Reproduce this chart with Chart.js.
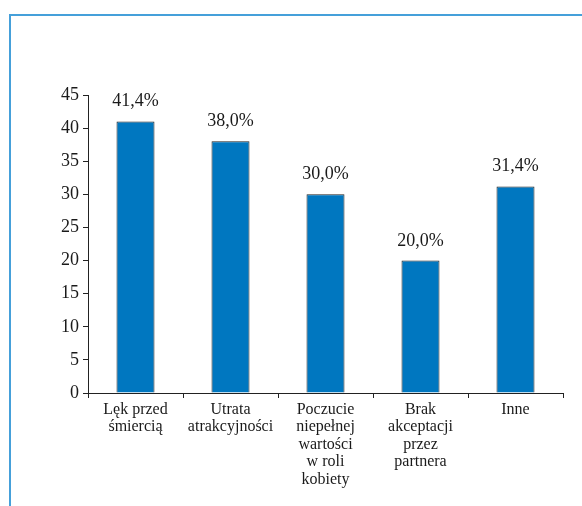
<!DOCTYPE html>
<html>
<head>
<meta charset="utf-8">
<script src="https://cdn.jsdelivr.net/npm/chart.js@4/dist/chart.umd.min.js"></script>
<style>
html, body { margin: 0; padding: 0; background: #fff; }
#wrap { position: relative; width: 582px; height: 506px; overflow: hidden; }
#frame { position: absolute; left: 9px; top: 14px; width: 600px; height: 600px;
  border-top: 2px solid #45a0da; border-left: 2px solid #45a0da; }
canvas { position: absolute; left: 0; top: 0; }
</style>
</head>
<body>
<div id="wrap">
<div id="frame"></div>
<canvas id="barChart" width="582" height="506"></canvas>
</div>
<script>
// data
var categories = [
    ['Lęk przed', 'śmiercią'],
    ['Utrata', 'atrakcyjności'],
    ['Poczucie', 'niepełnej', 'wartości', 'w roli', 'kobiety'],
    ['Brak', 'akceptacji', 'przez', 'partnera'],
    ['Inne']
];
var values = [41.0, 38.0, 30.0, 20.0, 31.2];
var valueLabels = ['41,4%', '38,0%', '30,0%', '20,0%', '31,4%'];

// labels above the bars
var valueLabelPlugin = {
    id: 'valueLabels',
    afterDatasetsDraw: function(chart) {
        var ctx = chart.ctx;
        var meta = chart.getDatasetMeta(0);
        ctx.save();
        ctx.font = '18px "Liberation Serif"';
        ctx.fillStyle = '#1a1a1a';
        ctx.textAlign = 'center';
        ctx.textBaseline = 'alphabetic';
        meta.data.forEach(function(bar, i) {
            ctx.fillText(valueLabels[i], bar.x, bar.y - 15);
        });
        ctx.restore();
    }
};

var ctx = document.getElementById('barChart').getContext('2d');
var barChart = new Chart(ctx, {
    type: 'bar',
    data: {
        labels: categories,
        datasets: [{
            data: values,
            backgroundColor: '#0077c0',
            borderColor: '#222222',
            borderWidth: 1,
            borderSkipped: 'bottom',
            barPercentage: 0.4,
            categoryPercentage: 1
        }]
    },
    options: {
        responsive: false,
        animation: false,
        layout: { padding: { left: 0, top: 95, right: 19, bottom: 0 } },
        plugins: {
            legend: { display: false },
            tooltip: { enabled: false }
        },
        scales: {
            x: {
                afterFit: function(scale) { scale.height = 113; },
                grid: { drawOnChartArea: false, drawTicks: true, tickLength: 5, color: '#222', offset: true },
                border: { display: true, color: '#222', width: 1 },
                ticks: {
                    color: '#1a1a1a',
                    padding: 3,
                    maxRotation: 0,
                    autoSkip: false,
                    font: { family: 'Liberation Serif', size: 16, lineHeight: 1.09 }
                }
            },
            y: {
                min: 0,
                max: 45,
                afterFit: function(scale) { scale.width = 88; },
                grid: { drawOnChartArea: false, drawTicks: true, tickLength: 5, color: '#222' },
                border: { display: true, color: '#222', width: 1 },
                ticks: {
                    stepSize: 5,
                    color: '#1a1a1a',
                    padding: 4,
                    font: { family: 'Liberation Serif', size: 18 }
                }
            }
        }
    },
    plugins: [valueLabelPlugin]
});
</script>
</body>
</html>
